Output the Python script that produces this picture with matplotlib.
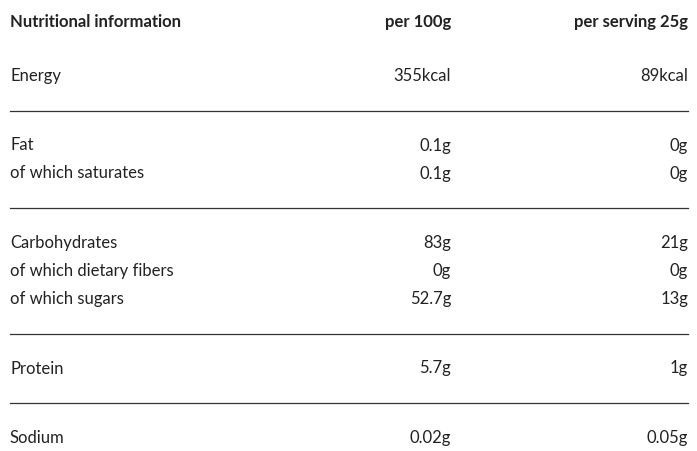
import matplotlib
matplotlib.use("Agg")
import matplotlib.pyplot as plt

headers = ["Nutritional information", "per 100g", "per serving 25g"]
groups = [
    [("Energy", "355kcal", "89kcal")],
    [("Fat", "0.1g", "0g"), ("of which saturates", "0.1g", "0g")],
    [("Carbohydrates", "83g", "21g"), ("of which dietary fibers", "0g", "0g"), ("of which sugars", "52.7g", "13g")],
    [("Protein", "5.7g", "1g")],
    [("Sodium", "0.02g", "0.05g")],
]

plt.rcParams['font.family'] = ['Lato', 'DejaVu Sans']
fig = plt.figure(figsize=(6.97, 4.51), dpi=100)
ax = fig.add_axes([0, 0, 1, 1])
ax.set_xlim(0, 697); ax.set_ylim(451, 0); ax.axis('off')

x0, x1, x2 = 10, 451, 688
col = '#222222'
ax.text(x0, 22, headers[0], ha='left', va='center', fontsize=12, fontweight='bold', color=col)
ax.text(x1, 22, headers[1], ha='right', va='center', fontsize=12, fontweight='bold', color=col)
ax.text(x2, 22, headers[2], ha='right', va='center', fontsize=12, fontweight='bold', color=col)

y = 76
row_h = 28
gap = 34.75
for gi, g in enumerate(groups):
    for (a, b, c) in g:
        ax.text(x0, y, a, ha='left', va='center', fontsize=12, color=col)
        ax.text(x1, y, b, ha='right', va='center', fontsize=12, color=col)
        ax.text(x2, y, c, ha='right', va='center', fontsize=12, color=col)
        y += row_h
    if gi < len(groups) - 1:
        ly = y - row_h + gap
        ax.plot([x0, x2], [ly, ly], color='#333333', lw=0.9)
        y = ly + gap

fig.savefig("out.png", dpi=100)
